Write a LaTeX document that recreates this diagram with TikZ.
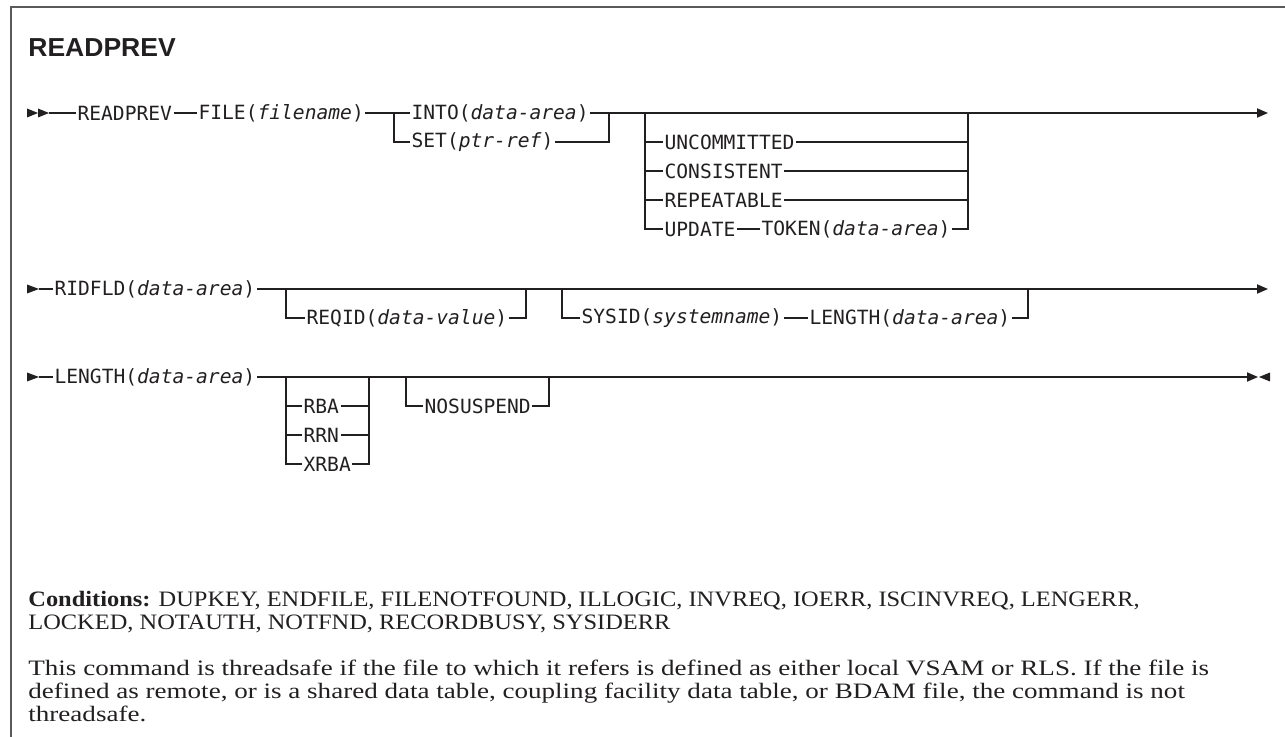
\documentclass[tikz,border=0pt]{standalone}
\usepackage{fontspec}
\usetikzlibrary{arrows.meta}
\newfontfamily\railfont{DejaVu Sans Mono}
\newfontfamily\headfont{Liberation Sans}[FakeStretch=1.02]
\newfontfamily\condfont{Liberation Serif}[FakeStretch=1.11]
\newfontfamily\notefont{Liberation Serif}[FakeStretch=1.23]
\definecolor{RailInk}{RGB}{34,31,32}
\definecolor{RailFrame}{RGB}{90,90,90}

\begin{document}
\begin{tikzpicture}[x=0.5pt,y=-0.5pt,>={Triangle[length=5.5pt,width=4.6pt]}]
  \tikzset{rail/.style={draw=RailInk,line width=0.65pt},kw/.style={anchor=west,inner xsep=0.6pt,inner ysep=0pt,text=RailInk,font=\railfont\fontsize{9.8}{11}\selectfont},body/.style={anchor=north west,inner sep=0pt,align=left,text=RailInk}}
  \useasboundingbox (0,0) rectangle (1285,737);
  \draw[RailFrame,line width=0.7pt] (1285,7) -- (11,7) -- (11,737);
  \node[anchor=base west,inner sep=0pt,text=RailInk,font=\headfont\bfseries\fontsize{13}{15}\selectfont] (title) at (28,57) {READPREV};
  % first line
  \fill[RailInk] (27,108.5) -- (38,113) -- (27,117.5) -- cycle (38,108.5) -- (49,113) -- (38,117.5) -- cycle;
  \coordinate (go1) at (49,113);
  \node[kw] (readprev) at (76,113) {READPREV};
  \node[kw] (file) at (197,113) {FILE(\textit{filename})};
  \node[kw] (into) at (410,113) {INTO(\textit{data-area})};
  \node[kw] (set) at (410,142) {SET(\textit{ptr-ref})};
  \node[kw] (uncom) at (663,142) {UNCOMMITTED};
  \node[kw] (cons) at (663,171) {CONSISTENT};
  \node[kw] (rep) at (663,200) {REPEATABLE};
  \node[kw] (upd) at (663,229) {UPDATE};
  \node[kw] (token) at (760,229) {TOKEN(\textit{data-area})};
  \coordinate (optL) at (645,113);
  \coordinate (optR) at (968,113);
  \coordinate (end1) at (1268,113);
  \draw[rail] (go1) -- (readprev.west) (readprev.east) -- (file.west) (file.east) -- (into.west);
  \draw[rail] (394,113) |- (set.west) (set.east) -| (609,113);
  \draw[rail,->] (into.east) -- (end1);
  \draw[rail] (optL) |- (upd.west) (upd.east) -- (token.west) (token.east) -| (optR);
  \foreach \n in {uncom,cons,rep}{\draw[rail] (optL |- \n.west) -- (\n.west) (\n.east) -- (optR |- \n.east);}
  % second line
  \fill[RailInk] (27,284.5) -- (39,289) -- (27,293.5) -- cycle;
  \coordinate (go2) at (39,289);
  \node[kw] (ridfld) at (53,289) {RIDFLD(\textit{data-area})};
  \node[kw] (reqid) at (305,318) {REQID(\textit{data-value})};
  \node[kw] (sysid) at (580,318) {SYSID(\textit{systemname})};
  \node[kw] (sylen) at (808,318) {LENGTH(\textit{data-area})};
  \coordinate (end2) at (1268,289);
  \draw[rail] (go2) -- (ridfld.west);
  \draw[rail,->] (ridfld.east) -- (end2);
  \draw[rail] (286,289) |- (reqid.west) (reqid.east) -| (526,289);
  \draw[rail] (562,289) |- (sysid.west) (sysid.east) -- (sylen.west) (sylen.east) -| (1028,289);
  % third line
  \fill[RailInk] (27,372.5) -- (39,377) -- (27,381.5) -- cycle;
  \coordinate (go3) at (39,377);
  \node[kw] (length) at (53,377) {LENGTH(\textit{data-area})};
  \node[kw] (rba) at (302,406) {RBA};
  \node[kw] (rrn) at (302,435) {RRN};
  \node[kw] (xrba) at (302,464) {XRBA};
  \node[kw] (nosusp) at (423,406) {NOSUSPEND};
  \coordinate (adrL) at (286,377);
  \coordinate (adrR) at (369,377);
  \coordinate (end3) at (1258,377);
  \draw[rail] (go3) -- (length.west);
  \draw[rail,->] (length.east) -- (end3);
  \fill[RailInk] (1270,372.5) -- (1259,377) -- (1270,381.5) -- cycle;
  \draw[rail] (adrL) |- (xrba.west) (xrba.east) -| (adrR);
  \foreach \n in {rba,rrn}{\draw[rail] (adrL |- \n.west) -- (\n.west) (\n.east) -- (adrR |- \n.east);}
  \draw[rail] (406,377) |- (nosusp.west) (nosusp.east) -| (549,377);
  \draw[RailInk,line width=1.1pt] (555,377) -- (579,377);
  % texts below
  \node[body,font=\condfont\fontsize{11}{11.5}\selectfont] (cond) at (28,591) {\textbf{Conditions:} DUPKEY, ENDFILE, FILENOTFOUND, ILLOGIC, INVREQ, IOERR, ISCINVREQ, LENGERR,\\LOCKED, NOTAUTH, NOTFND, RECORDBUSY, SYSIDERR};
  \node[body,font=\notefont\fontsize{11}{11.5}\selectfont] (note) at (28,660) {This command is threadsafe if the file to which it refers is defined as either local VSAM or RLS. If the file is\\defined as remote, or is a shared data table, coupling facility data table, or BDAM file, the command is not\\threadsafe.};
\end{tikzpicture}
\end{document}
